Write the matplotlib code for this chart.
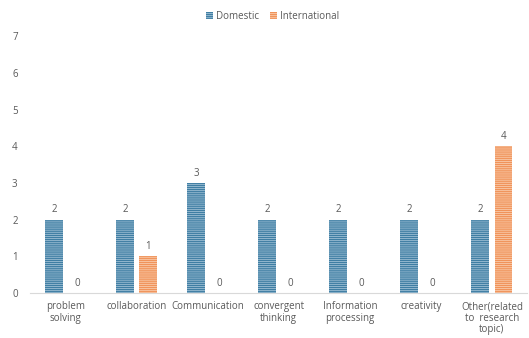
import numpy as np
import matplotlib.pyplot as plt
from matplotlib.patches import Patch

categories = ["problem\nsolving", "collaboration", "Communication", "convergent\nthinking",
              "Information\nprocessing", "creativity", "Other(related\nto  research\ntopic)"]
domestic = [2, 2, 3, 2, 2, 2, 2]
international = [0, 1, 0, 0, 0, 0, 4]

blue = "#3f7ea3"
blue_stripe = "#9fc0d5"
orange = "#f0935a"
orange_stripe = "#f9cbab"
txt = "#595959"

plt.rcParams['font.family'] = ['Open Sans', 'DejaVu Sans']
plt.rcParams['hatch.linewidth'] = 0.6

fig = plt.figure(figsize=(5.29, 3.38), dpi=100)
ax = fig.add_axes([0.057, 0.133, 0.94, 0.76])

x = np.arange(len(categories))
w = 0.25
off = 0.163

for xs, vals, fc, hc in [(x - off, domestic, blue, blue_stripe),
                         (x + off, international, orange, orange_stripe)]:
    ax.bar(xs, vals, w, color=fc, linewidth=0)
    ax.bar(xs, vals, w, facecolor="none", edgecolor=hc, hatch="--------", linewidth=0)
    for xi, v in zip(xs, vals):
        ax.text(xi, v + 0.12, str(v), ha="center", va="bottom", fontsize=7, color=txt)

ax.set_xlim(-0.5, len(categories) - 0.5)
ax.set_ylim(0, 7)
ax.set_yticks(range(8))
ax.set_xticks(x)
ax.set_xticklabels(categories, fontsize=7, color=txt, linespacing=1.05)
ax.tick_params(axis="y", labelsize=7, labelcolor=txt, length=0, pad=9)
ax.tick_params(axis="x", length=0, pad=6)
for s in ["top", "right", "left"]:
    ax.spines[s].set_visible(False)
ax.spines["bottom"].set_color("#d9d9d9")

handles = [Patch(facecolor=blue, edgecolor=blue_stripe, hatch="--------", linewidth=0, label="Domestic"),
           Patch(facecolor=orange, edgecolor=orange_stripe, hatch="--------", linewidth=0, label="International")]
leg = fig.legend(handles=handles, loc="center", bbox_to_anchor=(0.515, 0.952), ncol=2, frameon=False,
                 fontsize=7, handlelength=0.7, handleheight=0.7, handletextpad=0.3, columnspacing=1.2)
for t in leg.get_texts():
    t.set_color(txt)

fig.savefig("out.png", dpi=100)
